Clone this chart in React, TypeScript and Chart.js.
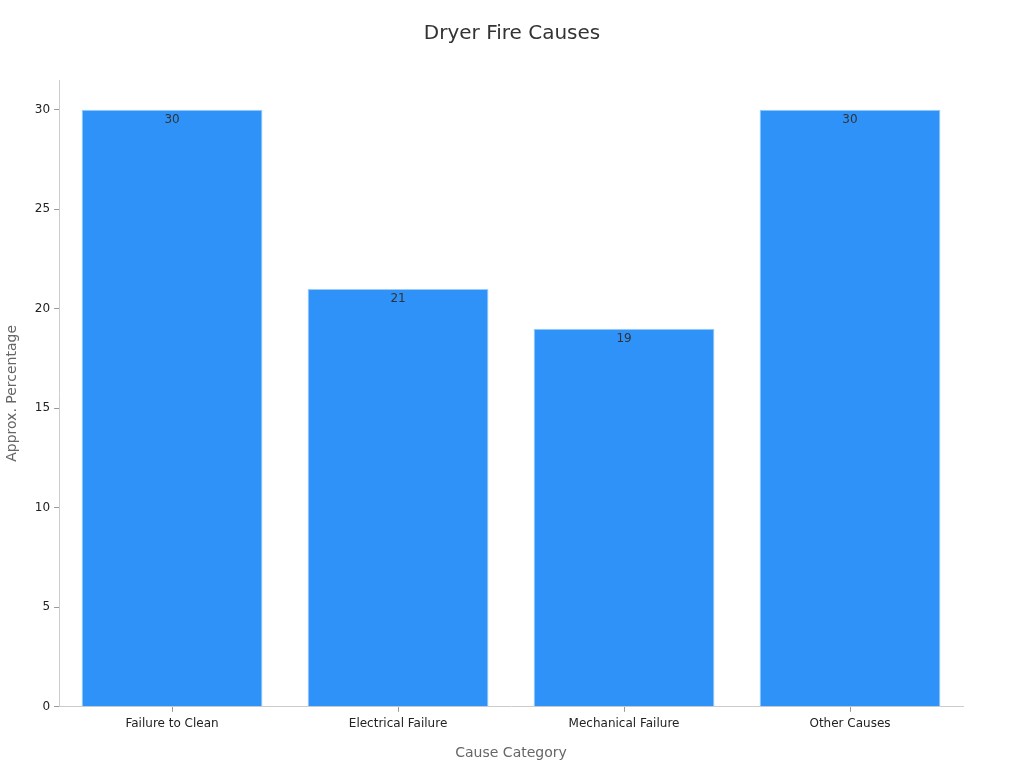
import React, { useEffect, useRef } from "react";
import { Chart, registerables } from "chart.js";

Chart.register(...registerables);

const categories = ["Failure to Clean", "Electrical Failure", "Mechanical Failure", "Other Causes"];
const percentages = [30, 21, 19, 30];
const yTicks = [0, 5, 10, 15, 20, 25, 30];
const chartTitle = "Dryer Fire Causes";

const labelPlugin = {
  id: "barLabels",
  afterDatasetsDraw(chart: any) {
    const ctx = chart.ctx;
    const meta = chart.getDatasetMeta(0);
    ctx.save();
    ctx.font = "12px 'DejaVu Sans'";
    ctx.fillStyle = "#333333";
    ctx.textAlign = "center";
    ctx.textBaseline = "top";
    meta.data.forEach((bar: any, i: number) => {
      ctx.fillText(String(percentages[i]), bar.x, bar.y + 4);
    });
    ctx.font = "20px 'DejaVu Sans'";
    ctx.textBaseline = "middle";
    ctx.fillText(chartTitle, chart.width / 2, 34);
    ctx.restore();
  },
};

export default function App() {
  const ref = useRef<HTMLCanvasElement>(null);
  useEffect(() => {
    const chart = new Chart(ref.current!, {
      type: "bar",
      data: {
        labels: categories,
        datasets: [
          {
            data: percentages,
            backgroundColor: "#2F92F9",
            borderColor: "#9ACBFB",
            borderWidth: 1,
            barPercentage: 0.8,
            categoryPercentage: 1,
          },
        ],
      },
      options: {
        animation: false,
        responsive: true,
        maintainAspectRatio: false,
        layout: { padding: { left: 0, right: 61, top: 80, bottom: 2 } },
        plugins: {
          legend: { display: false },
          tooltip: { enabled: false },
          title: { display: false },
        },
        scales: {
          x: {
            grid: { display: true, drawOnChartArea: false, offset: false, tickLength: 5, color: "#999999" },
            border: { color: "#cccccc" },
            ticks: { color: "#222222", font: { family: "'DejaVu Sans'", size: 12 }, padding: 5 },
            title: {
              display: true,
              text: "Cause Category",
              color: "#666666",
              font: { family: "'DejaVu Sans'", size: 14 },
              padding: { top: 9 },
            },
          },
          y: {
            min: 0,
            max: 31.5,
            afterBuildTicks: (axis: any) => {
              axis.ticks = yTicks.map((v) => ({ value: v }));
            },
            grid: { display: true, drawOnChartArea: false, tickLength: 5, color: "#999999" },
            border: { color: "#cccccc" },
            ticks: { color: "#222222", font: { family: "'DejaVu Sans'", size: 12 }, padding: 4 },
            title: {
              display: true,
              text: "Approx. Percentage",
              color: "#666666",
              font: { family: "'DejaVu Sans'", size: 14 },
              padding: { top: 4, bottom: 10 },
            },
          },
        },
      },
      plugins: [labelPlugin],
    });
    return () => chart.destroy();
  }, []);
  return (
    <div style={{ position: "fixed", left: 0, top: 0, width: 1024, height: 768, background: "#fff" }}>
      <canvas ref={ref} />
    </div>
  );
}
